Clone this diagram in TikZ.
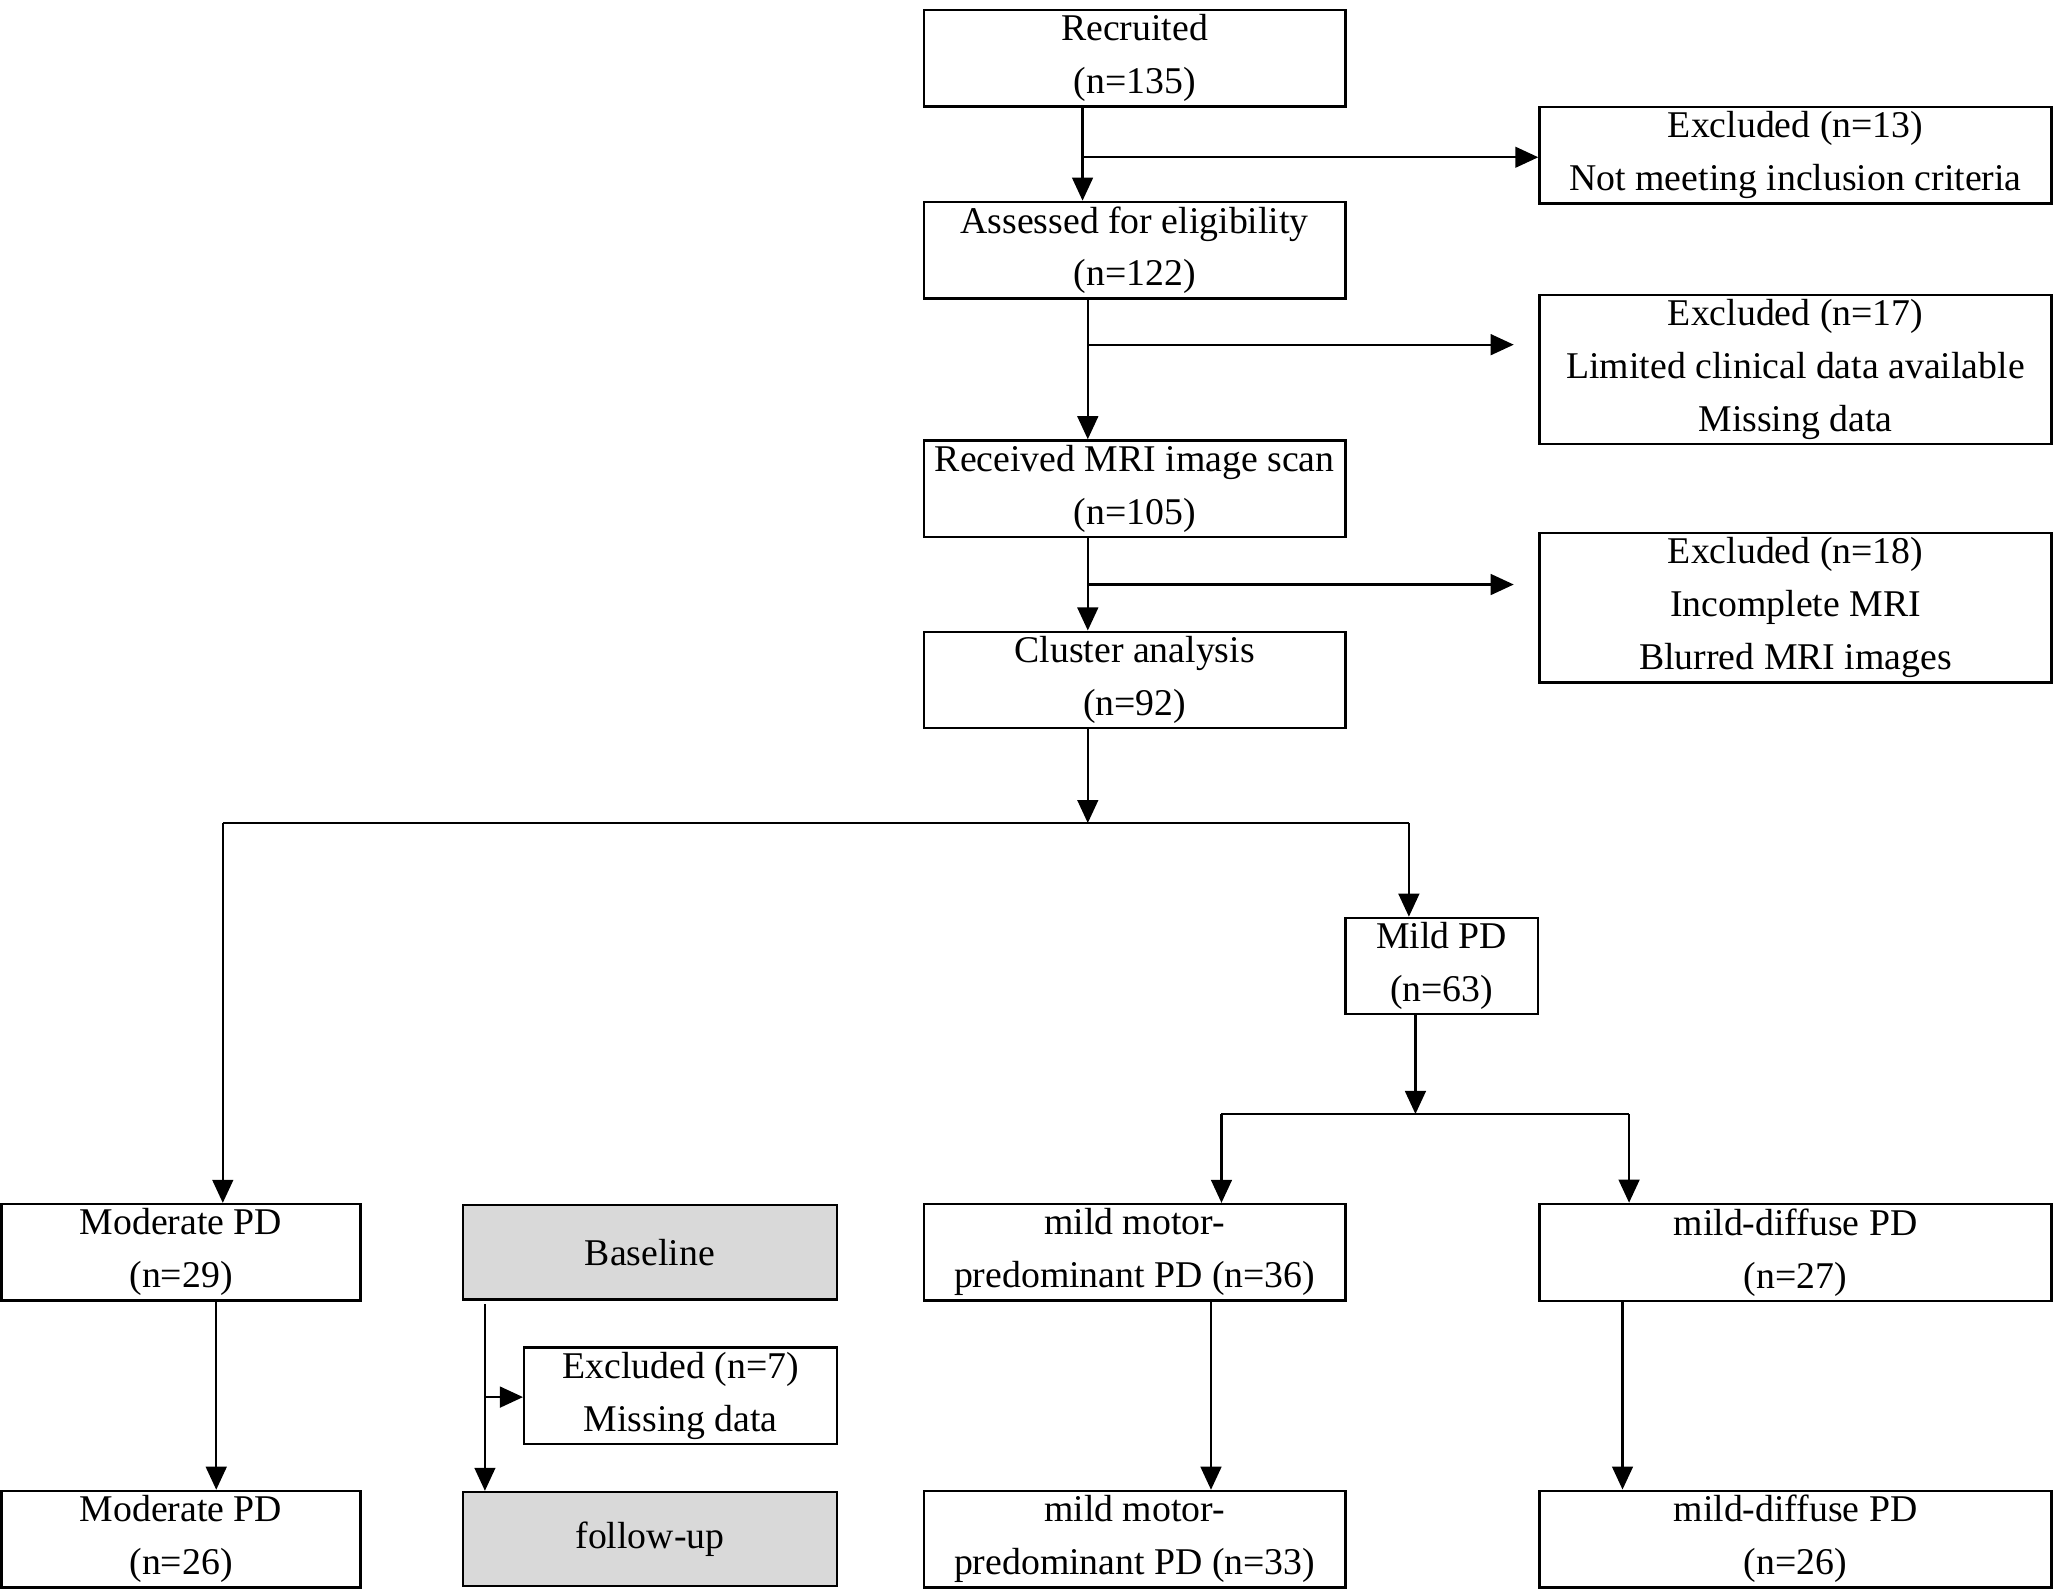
\documentclass[tikz,border=0pt]{standalone}
\usepackage{fontspec}
\setmainfont{Liberation Serif}
\usetikzlibrary{positioning,arrows.meta}
\tikzstyle{box}=[draw, line width=0.5pt, align=center, inner sep=1pt, font=\fontsize{8.2}{11.5}\selectfont]
\tikzstyle{gbox}=[box, fill=gray!30]
\tikzstyle{arr}=[-{Triangle[length=5pt,width=4.5pt]}, line width=0.5pt]
\newcommand{\bx}[7]{\node[#1, minimum width=#4*0.01cm, minimum height=#5*0.01cm] (#2) at (#3*0.01cm+#4*0.005cm, -#6*0.01cm-#5*0.005cm) {#7};}
\begin{document}
\begin{tikzpicture}
        \useasboundingbox (0,0) rectangle (15.68,-12.13);
        \bx{box}{rec}{705}{322}{73}{8}{Recruited\\(n=135)}
        \bx{box}{ex1}{1175}{391}{73}{82}{Excluded (n=13)\\Not meeting inclusion criteria}
        \bx{box}{ass}{705}{322}{72}{155}{Assessed for eligibility\\(n=122)}
        \bx{box}{ex2}{1175}{391}{108}{228}{Excluded (n=17)\\Limited clinical data available\\Missing data}
        \bx{box}{mri}{705}{322}{72}{337}{Received MRI image scan\\(n=105)}
        \bx{box}{ex3}{1175}{391}{108}{410}{Excluded (n=18)\\Incomplete MRI\\Blurred MRI images}
        \bx{box}{clu}{705}{322}{72}{483}{Cluster analysis\\(n=92)}
        \bx{box}{mild}{1027}{147}{73}{701}{Mild PD\\(n=63)}
        \bx{box}{mod}{1}{274}{72}{920}{Moderate PD\\(n=29)}
        \bx{gbox}{base}{353}{286}{72}{920}{Baseline}
        \bx{box}{mmp}{705}{322}{72}{920}{mild motor-\\predominant PD (n=36)}
        \bx{box}{md}{1175}{391}{72}{920}{mild-diffuse PD\\(n=27)}
        \bx{box}{ex4}{400}{239}{73}{1029}{Excluded (n=7)\\Missing data}
        \bx{box}{modf}{1}{274}{72}{1139}{Moderate PD\\(n=26)}
        \bx{gbox}{fol}{353}{286}{72}{1139}{follow-up}
        \bx{box}{mmpf}{705}{322}{72}{1139}{mild motor-\\predominant PD (n=33)}
        \bx{box}{mdf}{1175}{391}{72}{1139}{mild-diffuse PD\\(n=26)}
        % main column
        \draw[arr] (rec.south -| 8.26,0) -- (ass.north -| 8.26,0);
        \draw[arr] (8.26,-1.20) -- (ex1.west |- 0,-1.20);
        \draw[arr] (ass.south -| 8.30,0) -- (mri.north -| 8.30,0);
        \draw[arr] (8.30,-2.63) -- (11.55,-2.63);
        \draw[arr] (mri.south -| 8.30,0) -- (clu.north -| 8.30,0);
        \draw[arr] (8.30,-4.46) -- (11.55,-4.46);
        \draw[arr] (clu.south -| 8.30,0) -- (8.30,-6.28);
        \draw (1.70,-6.28) -- (10.75,-6.28);
        \draw[arr] (1.70,-6.28) -- (mod.north -| 1.70,0);
        \draw[arr] (10.75,-6.28) -- (mild.north -| 10.75,0);
        % mild branch
        \draw[arr] (mild.south -| 10.80,0) -- (10.80,-8.50);
        \draw (9.32,-8.50) -- (12.43,-8.50);
        \draw[arr] (9.32,-8.50) -- (mmp.north -| 9.32,0);
        \draw[arr] (12.43,-8.50) -- (md.north -| 12.43,0);
        % follow-up
        \draw[arr] (mod.south -| 1.65,0) -- (modf.north -| 1.65,0);
        \draw[arr] (3.70,-9.95) -- (fol.north -| 3.70,0);
        \draw[arr] (3.70,-10.66) -- (ex4.west |- 0,-10.66);
        \draw[arr] (mmp.south -| 9.24,0) -- (mmpf.north -| 9.24,0);
        \draw[arr] (md.south -| 12.38,0) -- (mdf.north -| 12.38,0);
\end{tikzpicture}
\end{document}
